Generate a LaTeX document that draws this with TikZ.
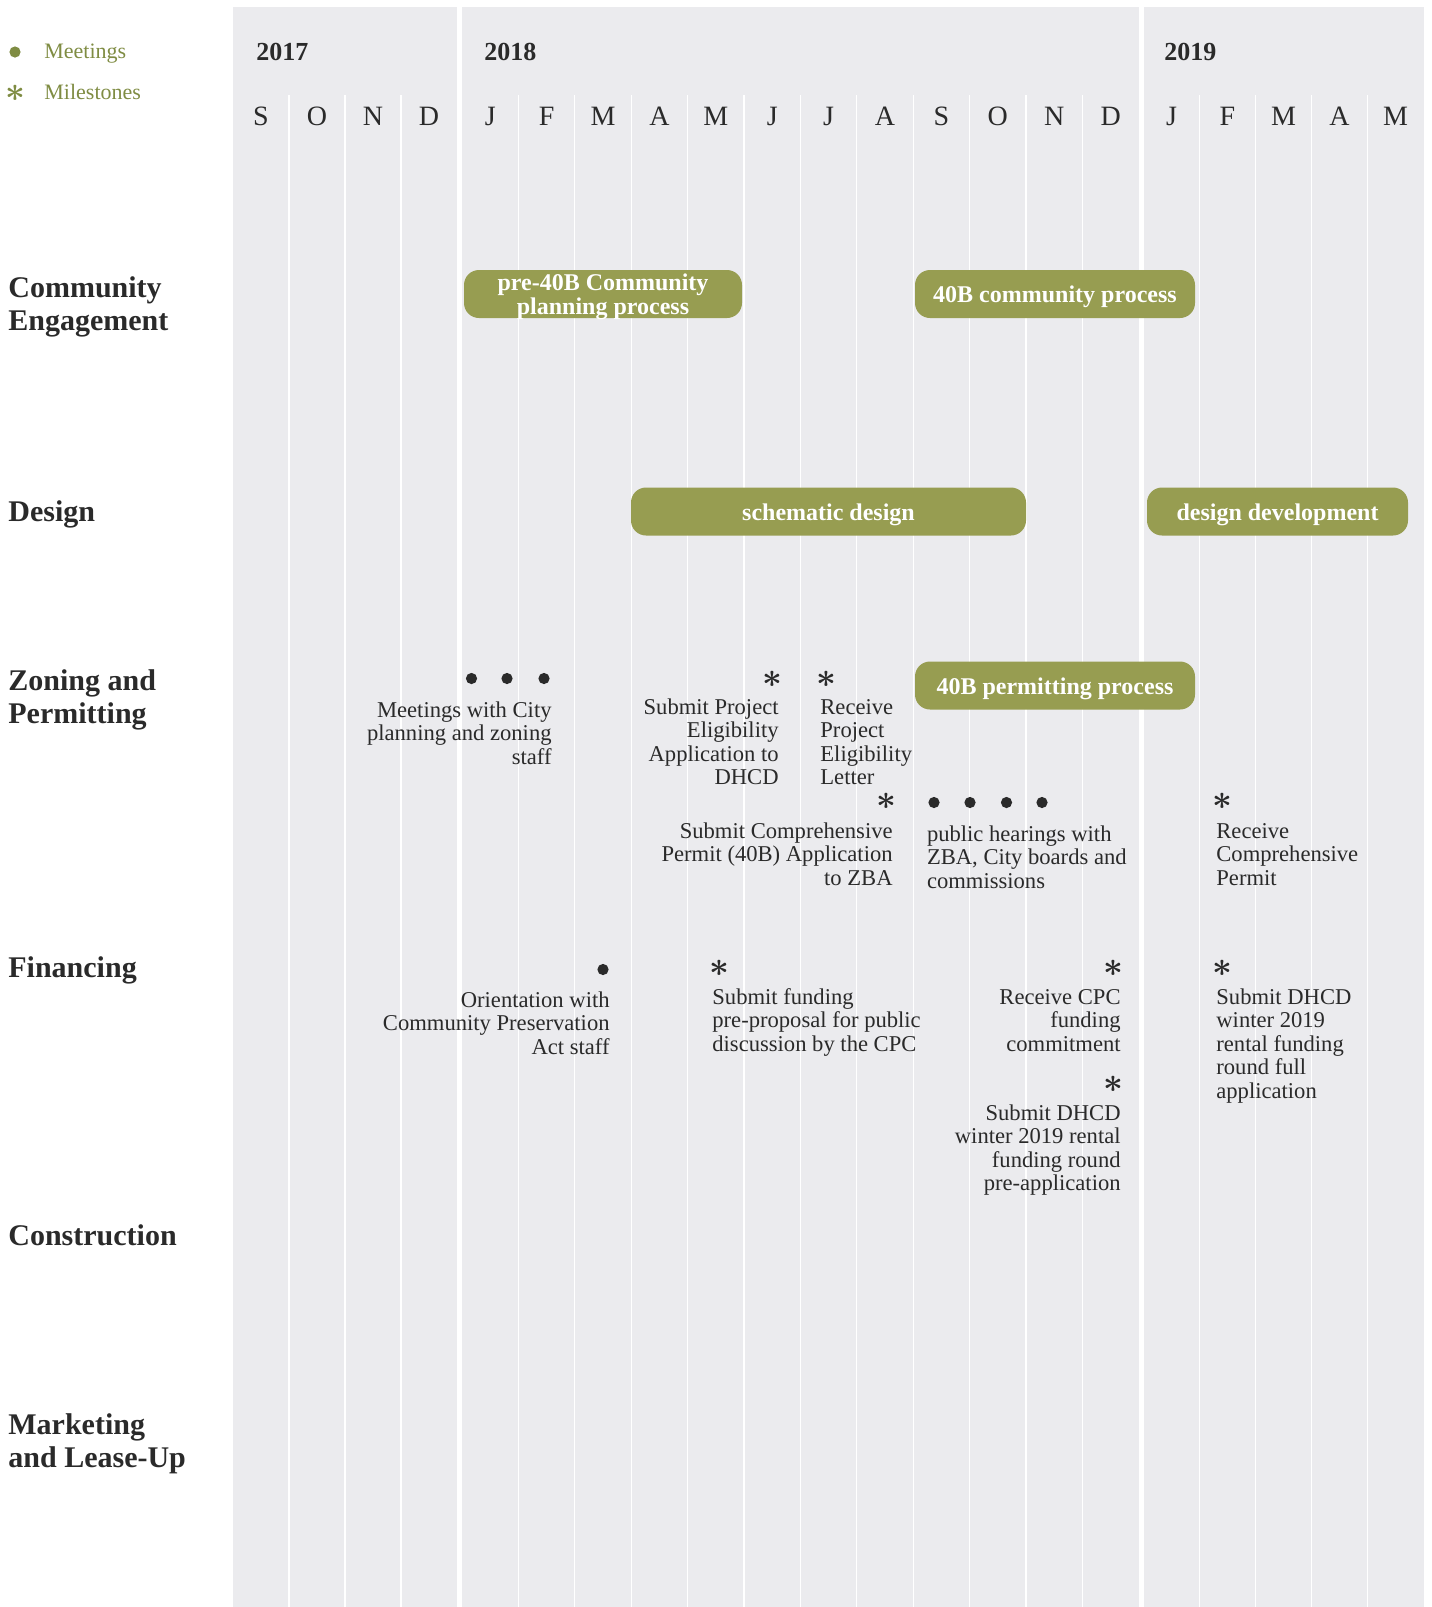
\documentclass[tikz,border=0pt]{standalone}
\usepackage{fontspec}
\setmainfont{Liberation Serif}
\usetikzlibrary{positioning}
\definecolor{PanelGrey}{HTML}{EBEBEE}
\definecolor{BarOlive}{HTML}{979D51}
\definecolor{KeyOlive}{HTML}{7F8C43}
\definecolor{InkGrey}{HTML}{2A2A2A}
\newcommand\rowfont{\fontsize{15}{16.5}\selectfont\bfseries}
\newcommand\notefont{\fontsize{11.3}{11.8}\selectfont}
\newcommand\barfont{\fontsize{12}{12}\selectfont\bfseries}
\newcommand\monthfont{\fontsize{14}{14}\selectfont}
\newcommand\yearfont{\fontsize{13}{13}\selectfont\bfseries}
\newcommand\keyfont{\fontsize{11}{11}\selectfont}

\begin{document}
\begin{tikzpicture}[x=0.5pt,y=-0.5pt,
  panel/.style={fill=PanelGrey},
  gridline/.style={white,line width=0.6pt},
  month/.style={font=\monthfont,text=InkGrey,anchor=base,inner sep=0},
  year/.style={font=\yearfont,text=InkGrey,anchor=base west,inner sep=0},
  rowhead/.style={font=\rowfont,text=InkGrey,align=left,anchor=base west,inner sep=0},
  phase/.style={fill=BarOlive,rounded corners=7.5pt,text=white,font=\barfont,align=center,inner sep=0,
    minimum height=24pt,text height=10pt,text depth=1.4pt},
  meeting/.style={circle,fill=InkGrey,inner sep=0,minimum size=5.6pt},
  milestone/.style={font=\fontsize{17}{17}\selectfont\boldmath,text=InkGrey,inner sep=0},
  notel/.style={font=\notefont,text=InkGrey,align=left,anchor=base west,inner sep=0},
  noter/.style={font=\notefont,text=InkGrey,align=right,anchor=base east,inner sep=0}]

\useasboundingbox (0,0) rectangle (1431,1607);

% year panels and month separators
\fill[panel] (233,7) rectangle (457,1607);
\fill[panel] (462,7) rectangle (1139,1607);
\fill[panel] (1143.5,7) rectangle (1423.5,1607);
\foreach \k in {1,...,3} \draw[gridline] (233+56*\k,95) -- (233+56*\k,1607);
\foreach \k in {1,...,11} \draw[gridline] (462+56.4*\k,95) -- (462+56.4*\k,1607);
\foreach \k in {1,...,4} \draw[gridline] (1143.5+56*\k,95) -- (1143.5+56*\k,1607);

% years and months
\node[year] (y2017) at (256,60) {2017};
\node[year] (y2018) at (484,60) {2018};
\node[year] (y2019) at (1164,60) {2019};
\foreach \m [count=\i from 0] in {S,O,N,D}
  \node[month] (m17-\i) at (261+56*\i,125) {\m};
\foreach \m [count=\i from 0] in {J,F,M,A,M,J,J,A,S,O,N,D}
  \node[month] (m18-\i) at (490.2+56.4*\i,125) {\m};
\foreach \m [count=\i from 0] in {J,F,M,A,M}
  \node[month] (m19-\i) at (1171.5+56*\i,125) {\m};

% legend
\node[meeting,fill=KeyOlive] (keydot) at (15,52) {};
\node[font=\keyfont,text=KeyOlive,anchor=base west,inner sep=0] (keymeet) at (44,58) {Meetings};
\node[milestone,text=KeyOlive] (keyast) at (15,93) {$\ast$};
\node[font=\keyfont,text=KeyOlive,anchor=base west,inner sep=0] (keymile) at (44,99) {Milestones};

% workstreams
\node[rowhead] (community) at (8,330) {Community\\Engagement};
\node[rowhead] (design) at (8,521) {Design};
\node[rowhead] (zoning) at (8,723) {Zoning and\\Permitting};
\node[rowhead] (financing) at (8,977) {Financing};
\node[rowhead] (construction) at (8,1245) {Construction};
\node[rowhead] (marketing) at (8,1467) {Marketing\\and Lease-Up};

% phases
\node[phase,minimum width=139pt,text height=22pt] (pre40b) at (603,294) {pre-40B Community\\planning process};
\node[phase,minimum width=140pt] (commproc) at (1055,294) {40B community process};
\node[phase,minimum width=197.5pt] (schematic) at (828.5,511.5) {schematic design};
\node[phase,minimum width=130.5pt] (devdesign) at (1277.5,511.5) {design development};
\node[phase,minimum width=140pt] (permitting) at (1055,685.5) {40B permitting process};

% zoning and permitting
\foreach \x [count=\i] in {471.5,507,544}
  \node[meeting] (citymeet-\i) at (\x,678.5) {};
\node[noter] (citystaff) at (552,764.2) {Meetings with City\\planning and zoning\\staff};
\node[milestone] (peaast) at (772,679) {$\ast$};
\node[noter] (peasubmit) at (779,784.8) {Submit Project\\Eligibility\\Application to\\DHCD};
\node[milestone] (pelast) at (826,679) {$\ast$};
\node[notel] (pelreceive) at (820,784.8) {Receive\\Project\\Eligibility\\Letter};
\node[milestone] (cpast) at (886,801) {$\ast$};
\node[noter] (cpsubmit) at (893,885.2) {Submit Comprehensive\\Permit (40B) Application\\to ZBA};
\foreach \x [count=\i] in {934,970,1006.5,1042}
  \node[meeting] (hearing-\i) at (\x,802.5) {};
\node[notel] (hearings) at (926.6,888.2) {public hearings with\\ZBA, City boards and\\commissions};
\node[milestone] (cprast) at (1222,801) {$\ast$};
\node[notel] (cpreceive) at (1216,885.2) {Receive\\Comprehensive\\Permit};

% financing
\node[meeting] (cpameet) at (603,969.5) {};
\node[noter] (cpaorient) at (610,1054.2) {Orientation with\\Community Preservation\\Act staff};
\node[milestone] (ppast) at (719.5,968) {$\ast$};
\node[notel] (preproposal) at (712,1051.2) {Submit funding\\pre-proposal for public\\discussion by the CPC};
\node[milestone] (cpcast) at (1113,968) {$\ast$};
\node[noter] (cpccommit) at (1121,1051.2) {Receive CPC\\funding\\commitment};
\node[milestone] (paast) at (1113,1084) {$\ast$};
\node[noter] (preapp) at (1121,1190.8) {Submit DHCD\\winter 2019 rental\\funding round\\pre-application};
\node[milestone] (faast) at (1222,968) {$\ast$};
\node[notel] (fullapp) at (1216,1098.4) {Submit DHCD\\winter 2019\\rental funding\\round full\\application};
\end{tikzpicture}
\end{document}
